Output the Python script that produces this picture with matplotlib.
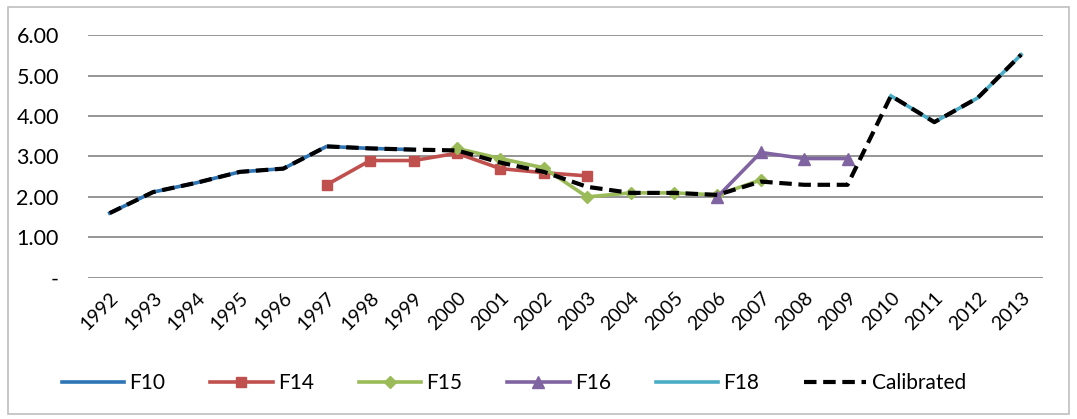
import numpy as np
import matplotlib.pyplot as plt
from matplotlib.patches import Rectangle

years = [str(y) for y in range(1992, 2014)]
nan = np.nan

# values (NaN where a series has no point)
f10 = [1.60, 2.12, 2.35, 2.62, 2.70, 3.25, 3.20, 3.17] + [nan] * 14
f14 = [nan] * 5 + [2.30, 2.90, 2.90, 3.08, 2.70, 2.60, 2.52] + [nan] * 10
f15 = [nan] * 8 + [3.20, 2.95, 2.72, 2.00, 2.10, 2.10, 2.05, 2.42] + [nan] * 6
f16 = [nan] * 14 + [2.00, 3.10, 2.95, 2.95] + [nan] * 4
f18 = [nan] * 18 + [4.50, 3.85, 4.45, 5.52]
calibrated = [1.60, 2.12, 2.35, 2.62, 2.70, 3.25, 3.20, 3.17, 3.15, 2.85, 2.62,
              2.25, 2.10, 2.10, 2.05, 2.38, 2.30, 2.30, 4.50, 3.85, 4.45, 5.52]

ytick_vals = [0, 1, 2, 3, 4, 5, 6]
ytick_labels = ['-', '1.00', '2.00', '3.00', '4.00', '5.00', '6.00']

plt.rcParams['font.family'] = ['Lato', 'DejaVu Sans']

fig = plt.figure(figsize=(10.77, 4.19), dpi=100)
ax = fig.add_axes([0.0817, 0.337, 0.8866, 0.579])

x = np.arange(len(years))
lw = 2.6
ax.plot(x, f10, color='#2E75B6', lw=lw, label='F10')
ax.plot(x, f14, color='#C0504D', lw=lw, marker='s', ms=7, label='F14')
ax.plot(x, f15, color='#9BBB59', lw=lw, marker='D', ms=6, label='F15')
ax.plot(x, f16, color='#8064A2', lw=lw, marker='^', ms=8, label='F16')
ax.plot(x, f18, color='#4BACC6', lw=lw, label='F18')
ax.plot(x, calibrated, color='black', lw=3.0, ls=(0, (3, 1.6)), label='Calibrated')

ax.set_xlim(-0.5, len(years) - 0.5)
ax.set_ylim(0, 6)
ax.set_yticks(ytick_vals)
ax.set_yticklabels(ytick_labels, fontsize=15.5)
ax.set_xticks(x)
ax.set_xticklabels(years, rotation=45, ha='right', rotation_mode='anchor', fontsize=14)
ax.tick_params(length=0)
ax.tick_params(axis='y', pad=21)
ax.tick_params(axis='x', pad=8)
for s in ax.spines.values():
    s.set_visible(False)
ax.grid(axis='y', color='#8C8C8C', lw=1.3)
ax.set_axisbelow(True)

fig.legend(loc='center', bbox_to_anchor=(0.477, 0.085), ncol=6, frameon=False,
           fontsize=15, handlelength=3.0, columnspacing=2.15, handletextpad=0.25)

fig.patches.append(Rectangle((0.007, 0.012), 0.986, 0.972, transform=fig.transFigure,
                             fill=False, edgecolor='#BFBFBF', lw=1.2))

fig.savefig('out.png', dpi=100)
